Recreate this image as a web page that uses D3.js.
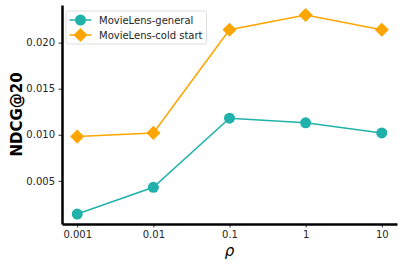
<!DOCTYPE html>
<meta charset="utf-8">
<script src="https://d3js.org/d3.v7.min.js"></script>
<style>
  body { margin: 0; background: #fff; }
  text { font-family: "DejaVu Sans", sans-serif; }
</style>
<svg></svg>
<script>

// DATA

var rhoLabels = ["0.001", "0.01", "0.1", "1", "10"];
var generalValues = [0.0014, 0.0043, 0.0118, 0.0113, 0.0102];
var coldValues = [0.0098, 0.0102, 0.0214, 0.0230, 0.0214];
var yTicks = [0.005, 0.010, 0.015, 0.020];
var seriesNames = ["MovieLens-general", "MovieLens-cold start"];

// GLOBALS

var width = 403;
var height = 268;
var margin = { top: 5, left: 62, right: 6, bottom: 44 };

var svg = d3.select("svg")
    .attr("width", width)
    .attr("height", height);

// SCALES (matplotlib-style 5% margins)

var xScale = d3.scaleLinear()
    .domain([-0.2, rhoLabels.length - 1 + 0.2])
    .range([margin.left, width - margin.right]);

var all = generalValues.concat(coldValues);
var lo = d3.min(all), hi = d3.max(all), pad = (hi - lo) * 0.05;
var yScale = d3.scaleLinear()
    .domain([lo - pad, hi + pad])
    .range([height - margin.bottom, margin.top]);

// AXES

svg.append("g")
    .attr("transform", "translate(0," + (height - margin.bottom) + ")")
    .call(d3.axisBottom(xScale)
        .tickValues(d3.range(rhoLabels.length))
        .tickFormat(function(d) { return rhoLabels[d]; })
        .tickSize(3.5)
        .tickPadding(3.5)
        .tickSizeOuter(0));

svg.append("g")
    .attr("transform", "translate(" + margin.left + ",0)")
    .call(d3.axisLeft(yScale)
        .tickValues(yTicks)
        .tickFormat(d3.format(".3f"))
        .tickSize(3.5)
        .tickPadding(3.5)
        .tickSizeOuter(0));

svg.selectAll(".tick text")
    .style("font-size", "10px")
    .style("font-family", "DejaVu Sans")
    .attr("fill", "#262626");
svg.selectAll(".tick line").attr("stroke", "#000").attr("stroke-width", 0.8);
svg.selectAll(".domain").attr("stroke", "#000").attr("stroke-width", 2.5);

// LINES

var line = d3.line()
    .x(function(d, i) { return xScale(i); })
    .y(function(d) { return yScale(d); });

svg.append("path")
    .datum(generalValues)
    .attr("fill", "none")
    .attr("stroke", "lightseagreen")
    .attr("stroke-width", 1.5)
    .attr("d", line);

svg.append("path")
    .datum(coldValues)
    .attr("fill", "none")
    .attr("stroke", "orange")
    .attr("stroke-width", 1.5)
    .attr("d", line);

var circle = d3.symbol().type(d3.symbolCircle).size(Math.PI * 5.5 * 5.5);
var diamond = d3.symbol().type(d3.symbolSquare).size(10 * 10);

svg.append("g").selectAll("path")
    .data(generalValues)
    .enter().append("path")
    .attr("d", circle)
    .attr("fill", "lightseagreen")
    .attr("transform", function(d, i) {
        return "translate(" + xScale(i) + "," + yScale(d) + ")";
    });

svg.append("g").selectAll("path")
    .data(coldValues)
    .enter().append("path")
    .attr("d", diamond)
    .attr("fill", "orange")
    .attr("transform", function(d, i) {
        return "translate(" + xScale(i) + "," + yScale(d) + ") rotate(45)";
    });

// LEGEND

var legend = svg.append("g").attr("transform", "translate(66,11)");

legend.append("rect")
    .attr("width", 140.5)
    .attr("height", 33)
    .attr("rx", 2.5)
    .attr("fill", "#fff")
    .attr("fill-opacity", 0.8)
    .attr("stroke", "#d6d6d6")
    .attr("stroke-width", 0.8);

var colors = ["lightseagreen", "orange"];
var symbols = [circle, diamond];
seriesNames.forEach(function(name, i) {
    var y = 9 + i * 15;
    legend.append("line")
        .attr("x1", 3.5).attr("x2", 25.5)
        .attr("y1", y).attr("y2", y)
        .attr("stroke", colors[i])
        .attr("stroke-width", 1.5);
    legend.append("path")
        .attr("d", symbols[i])
        .attr("fill", colors[i])
        .attr("transform", "translate(14.5," + y + ")" + (i === 1 ? " rotate(45)" : ""));
    legend.append("text")
        .attr("x", 33)
        .attr("y", y + 3.5)
        .style("font-size", "10px")
        .attr("fill", "#262626")
        .text(name);
});

// AXIS LABELS

svg.append("text")
    .attr("transform", "translate(22," + ((margin.top + height - margin.bottom) / 2) + ") rotate(-90)")
    .attr("text-anchor", "middle")
    .style("font-size", "15px")
    .style("font-weight", "bold")
    .text("NDCG@20");

svg.append("text")
    .attr("x", xScale(2))
    .attr("y", 256)
    .attr("text-anchor", "middle")
    .style("font-size", "15px")
    .style("font-style", "italic")
    .text("ρ");

</script>
